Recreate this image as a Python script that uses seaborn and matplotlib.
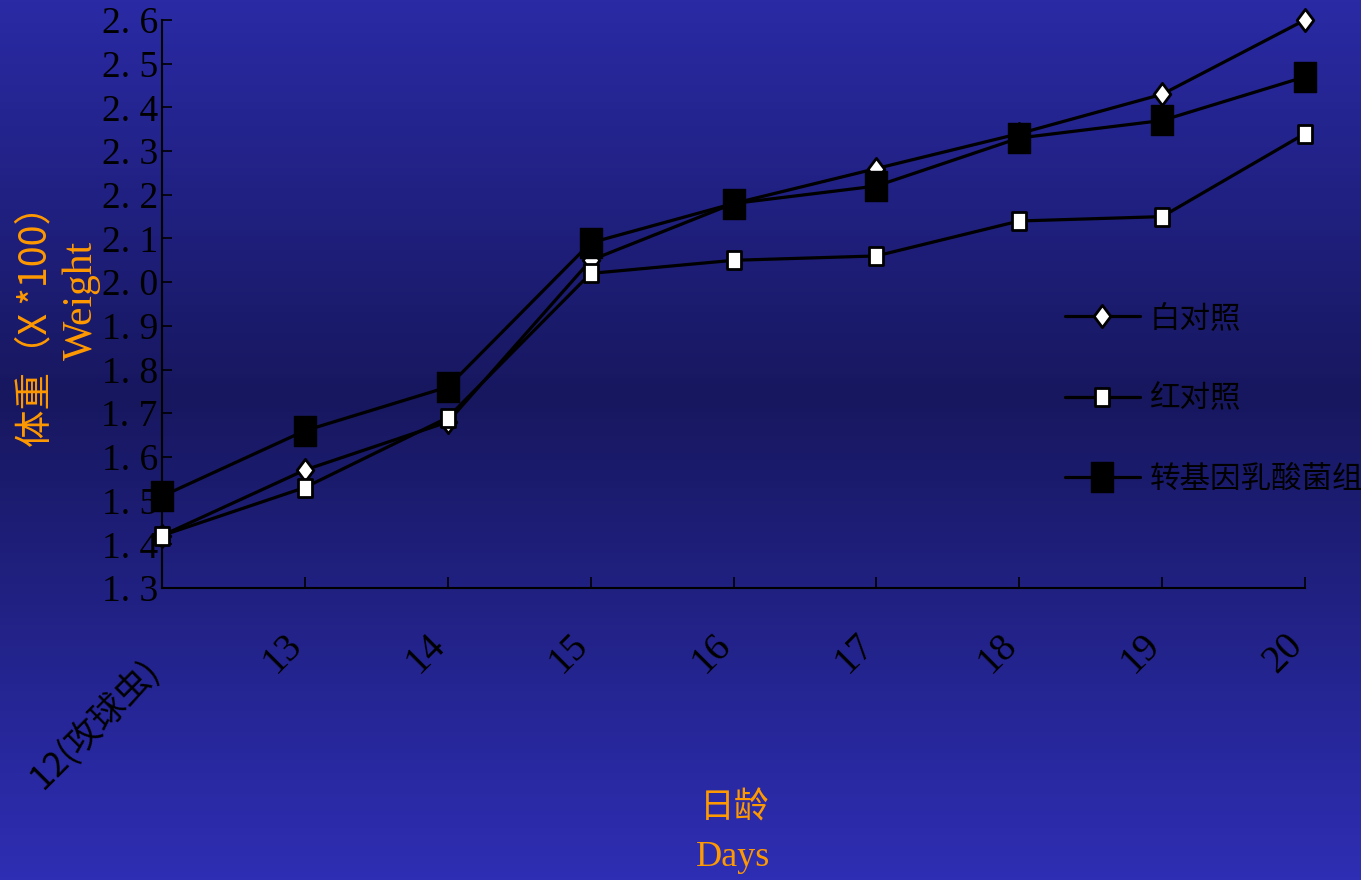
import numpy as np
import pandas as pd
import seaborn as sns
import matplotlib.pyplot as plt
from matplotlib.colors import LinearSegmentedColormap
from matplotlib.path import Path
from matplotlib.transforms import ScaledTranslation

days = ["12(攻球虫)", "13", "14", "15", "16", "17", "18", "19", "20"]
white_ctrl = [1.42, 1.57, 1.68, 2.05, 2.18, 2.26, 2.34, 2.43, 2.60]
red_ctrl = [1.42, 1.53, 1.69, 2.02, 2.05, 2.06, 2.14, 2.15, 2.34]
transgenic = [1.51, 1.66, 1.76, 2.09, 2.18, 2.22, 2.33, 2.37, 2.47]
series_names = ["白对照", "红对照", "转基因乳酸菌组"]
y_ticks = [1.3, 1.4, 1.5, 1.6, 1.7, 1.8, 1.9, 2.0, 2.1, 2.2, 2.3, 2.4, 2.5, 2.6]

sns.set_style("white")
plt.rcParams['font.family'] = ['Noto Sans CJK SC', 'DejaVu Sans']
cjk = ['Noto Sans CJK SC', 'DejaVu Sans']
serif = ['Liberation Serif', 'Noto Sans CJK SC']
orange = '#ff9900'


def box(w):
    return Path([(-w, -1), (w, -1), (w, 1), (-w, 1), (-w, -1)],
                [Path.MOVETO, Path.LINETO, Path.LINETO, Path.LINETO, Path.CLOSEPOLY])


diamond = Path([(0, -1), (0.75, 0), (0, 1), (-0.75, 0), (0, -1)],
               [Path.MOVETO, Path.LINETO, Path.LINETO, Path.LINETO, Path.CLOSEPOLY])

fig = plt.figure(figsize=(13.61, 8.8), dpi=100)

# gradient background
bg = fig.add_axes([0, 0, 1, 1], zorder=0)
cmap = LinearSegmentedColormap.from_list(
    "bg", [(0.0, (42/255, 42/255, 165/255)), (0.45, (23/255, 23/255, 95/255)),
           (1.0, (46/255, 46/255, 180/255))])
bg.imshow(np.linspace(0, 1, 256).reshape(-1, 1), aspect='auto', cmap=cmap,
          extent=[0, 1, 0, 1])
bg.axis('off')

ax = fig.add_axes([162/1361, 1 - 588/880, (1305 - 162)/1361, (588 - 20)/880], zorder=1)
ax.set_facecolor('none')

x = np.arange(len(days))
df = pd.DataFrame({"x": x, "w": white_ctrl, "r": red_ctrl, "t": transgenic})
sns.lineplot(data=df, x="x", y="w", ax=ax, color='black', lw=2.3, marker=diamond,
             markersize=16, markerfacecolor='white', markeredgecolor='black',
             markeredgewidth=2, label=series_names[0], clip_on=False, zorder=2)
sns.lineplot(data=df, x="x", y="r", ax=ax, color='black', lw=2.3, marker=box(0.78),
             markersize=13, markerfacecolor='white', markeredgecolor='black',
             markeredgewidth=2, label=series_names[1], clip_on=False, zorder=3)
sns.lineplot(data=df, x="x", y="t", ax=ax, color='black', lw=2.3, marker=box(0.7),
             markersize=22, markerfacecolor='black', markeredgecolor='black',
             markeredgewidth=1, label=series_names[2], clip_on=False, zorder=4)

ax.set_xlim(0, len(days) - 1)
ax.set_ylim(1.3, 2.6)
ax.set_yticks(y_ticks)
ax.set_yticklabels([f"{v:.1f}".replace('.', '. ') for v in y_ticks],
                   family=serif, fontsize=27, color='black')
ax.set_xticks(x)
ax.set_xticklabels(days, family=serif, fontsize=28, color='black', rotation=45,
                   ha='right', va='center', rotation_mode='anchor')
ax.tick_params(axis='y', left=True, direction='in', length=7, width=1.2,
               color='black', pad=3)
ax.tick_params(axis='x', bottom=True, direction='in', length=8, width=1.2,
               color='black', pad=37)
xlabels = ax.get_xticklabels()
xlabels[0].set_family(cjk)
xlabels[0].set_fontsize(25)
for i, lbl in enumerate(xlabels):
    dy = -26 if i == 0 else 0
    lbl.set_transform(lbl.get_transform() +
                      ScaledTranslation(-8/100, dy/100, fig.dpi_scale_trans))

for s in ['top', 'right']:
    ax.spines[s].set_visible(False)
for s in ['left', 'bottom']:
    ax.spines[s].set_color('black')
    ax.spines[s].set_linewidth(1.5)
ax.set_xlabel("")
ax.set_ylabel("")

leg = ax.legend(loc='upper left', bbox_to_anchor=(1065/1361, 1 - 303/880),
                bbox_transform=fig.transFigure, frameon=False,
                handlelength=2.45, labelspacing=1.62, handletextpad=0.33,
                borderpad=0, borderaxespad=0, labelcolor='black',
                prop={'family': cjk, 'size': 22})

fig.text(36/1361, 1 - 317/880, "体重（X *100）", rotation=90, color=orange,
         fontsize=27, family=cjk, ha='center', va='center')
fig.text(82/1361, 1 - 300/880, "Weight", rotation=90, color=orange,
         fontsize=30, family=serif, ha='center', va='center')
fig.text(735/1361, 1 - 808/880, "日龄", color=orange, fontsize=25,
         family=cjk, ha='center', va='center')
fig.text(733/1361, 1 - 857/880, "Days", color=orange, fontsize=26,
         family=serif, ha='center', va='center')

fig.savefig("out.png", dpi=100)
